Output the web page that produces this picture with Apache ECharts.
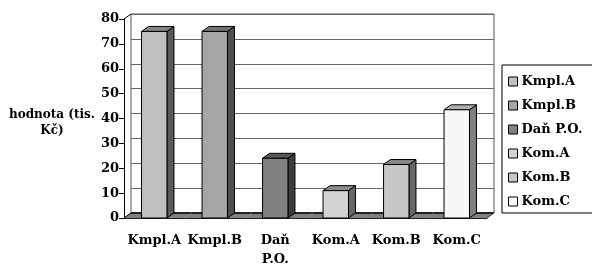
<!DOCTYPE html>
<html>
<head>
<meta charset="utf-8">
<script src="https://cdn.jsdelivr.net/npm/echarts@6/dist/echarts.min.js"></script>
<style>
  html, body { margin: 0; padding: 0; background: #fff; }
  #main { width: 592px; height: 269px; }
</style>
</head>
<body>
<div id="main"></div>
<script>
// data
var categories = ['Kmpl.A', 'Kmpl.B', 'Daň\nP.O.', 'Kom.A', 'Kom.B', 'Kom.C'];
var legendNames = ['Kmpl.A', 'Kmpl.B', 'Daň P.O.', 'Kom.A', 'Kom.B', 'Kom.C'];
var values = [75, 75, 24, 11, 21.5, 43.5];
var yMin = 0, yMax = 80, yStep = 10;
var yTitle = 'hodnota (tis.\nKč)';

// barvy (přední stěna, vršek, bok)
var frontColors = ['#c0c0c0', '#a6a6a6', '#808080', '#d4d4d4', '#c6c6c6', '#f8f8f8'];
var topColors   = ['#858585', '#737373', '#575757', '#8c8c8c', '#878787', '#b0b0b0'];
var sideColors  = ['#595959', '#4f4f4f', '#3d3d3d', '#666666', '#666666', '#808080'];

var DX = 7, DY = 5;
var FONT = 'DejaVu Serif';

var myChart = echarts.init(document.getElementById('main'));

// 3D sloupec
function barRender(i) {
    return function (params, api) {
        var x = api.value(0), v = api.value(1);
        var base = api.coord([x, 0]);
        var tp = api.coord([x, v]);
        var w = api.size([1, 0])[0] * 0.42;
        var x0 = base[0] - w / 2, x1 = base[0] + w / 2;
        return {
            type: 'group',
            children: [
                { type: 'polygon', shape: { points: [[x1, tp[1]], [x1 + DX, tp[1] - DY], [x1 + DX, base[1] - DY], [x1, base[1]]] },
                  style: { fill: sideColors[i], stroke: '#000', lineWidth: 1 } },
                { type: 'polygon', shape: { points: [[x0, tp[1]], [x0 + DX, tp[1] - DY], [x1 + DX, tp[1] - DY], [x1, tp[1]]] },
                  style: { fill: topColors[i], stroke: '#000', lineWidth: 1 } },
                { type: 'rect', shape: { x: x0, y: tp[1], width: w, height: base[1] - tp[1] },
                  style: { fill: frontColors[i], stroke: '#000', lineWidth: 1 } }
            ]
        };
    };
}

// podlaha + levá stěna
function floorRender(params, api) {
    var x = api.value(0);
    var c = api.coord([x, 0]);
    var band = api.size([1, 0])[0];
    var a = c[0] - band / 2, b = c[0] + band / 2;
    var last = params.dataIndex === categories.length - 1;
    var children = [
        { type: 'polygon', shape: { points: [[a, c[1]], [a + DX, c[1] - DY], [b + DX, c[1] - DY], [b, c[1]]] },
          style: { fill: '#808080', stroke: '#808080', lineWidth: 0.5 } },
        { type: 'line', shape: { x1: a + DX, y1: c[1] - DY, x2: b + DX, y2: c[1] - DY },
          style: { stroke: '#000', lineWidth: 1.5 } }
    ];
    if (params.dataIndex === 0) {
        var t = api.coord([x, yMax]);
        children.push({ type: 'line', shape: { x1: a, y1: t[1], x2: a + DX, y2: t[1] - DY },
                        style: { stroke: '#000', lineWidth: 1 } });
        children.push({ type: 'line', shape: { x1: a, y1: c[1], x2: a + DX, y2: c[1] - DY },
                        style: { stroke: '#000', lineWidth: 1 } });
    }
    if (last) {
        children.push({ type: 'line', shape: { x1: b, y1: c[1], x2: b + DX, y2: c[1] - DY },
                        style: { stroke: '#444', lineWidth: 1 } });
    }
    return { type: 'group', children: children };
}

var series = [{
    name: 'floor',
    type: 'custom',
    xAxisIndex: 0, yAxisIndex: 0,
    z: 2,
    silent: true,
    data: categories.map(function (c, i) { return [i, 0]; }),
    renderItem: floorRender
}];
categories.forEach(function (c, i) {
    series.push({
        name: legendNames[i],
        type: 'custom',
        xAxisIndex: 0, yAxisIndex: 0,
        z: 3,
        itemStyle: { color: frontColors[i] },
        encode: { x: 0, y: 1 },
        data: [[i, values[i]]],
        renderItem: barRender(i)
    });
});

var option = {
    animation: false,
    grid: [
        { left: 124, right: 105, top: 19, bottom: 51 },
        { left: 124 + DX, right: 105 - DX, top: 19 - DY, bottom: 51 + DY, show: true,
          borderColor: '#555', borderWidth: 1, backgroundColor: 'transparent' }
    ],
    legend: {
        data: legendNames,
        orient: 'vertical',
        left: 502, top: 65,
        padding: [10, 30, 5, 6],
        itemGap: 11,
        itemWidth: 9, itemHeight: 9,
        icon: 'rect',
        borderColor: '#000', borderWidth: 1,
        itemStyle: { borderColor: '#000', borderWidth: 1 },
        textStyle: { fontFamily: FONT, fontWeight: 'bold', fontSize: 13, color: '#000', padding: [0, 0, 0, -1] }
    },
    xAxis: [
        { type: 'category', gridIndex: 0, data: categories,
          axisLine: { lineStyle: { color: '#000' } },
          axisTick: { length: 4, lineStyle: { color: '#000' } },
          axisLabel: { fontFamily: FONT, fontWeight: 'bold', fontSize: 13, color: '#000', margin: 13, lineHeight: 19, interval: 0 } },
        { type: 'category', gridIndex: 1, data: categories, show: false }
    ],
    yAxis: [
        { type: 'value', gridIndex: 0, min: yMin, max: yMax, interval: yStep,
          name: yTitle, nameLocation: 'middle', nameRotate: 0, nameGap: 68,
          nameTextStyle: { fontFamily: FONT, fontWeight: 'bold', fontSize: 12, color: '#000', align: 'center',
                           verticalAlign: 'top', lineHeight: 16, padding: [-12, 0, 0, 0] },
          axisLine: { show: true, lineStyle: { color: '#000' } },
          axisTick: { show: true, length: 5, lineStyle: { color: '#000' } },
          splitLine: { show: false },
          axisLabel: { fontFamily: FONT, fontWeight: 'bold', fontSize: 13, color: '#000', margin: 5 } },
        { type: 'value', gridIndex: 1, min: yMin, max: yMax, interval: yStep,
          axisLine: { show: false }, axisTick: { show: false }, axisLabel: { show: false },
          splitLine: { show: true, lineStyle: { color: '#666', width: 1 } } }
    ],
    series: series
};

myChart.setOption(option);
</script>
</body>
</html>
